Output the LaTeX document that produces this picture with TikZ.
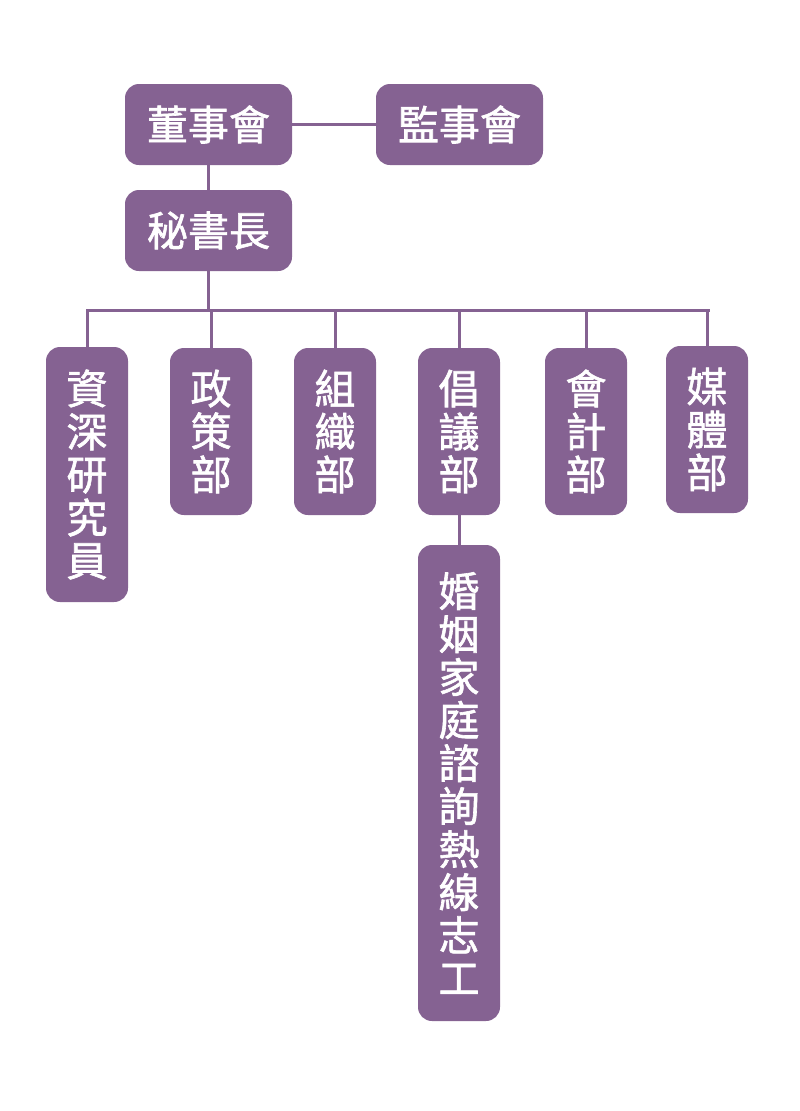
\documentclass[tikz,border=0pt]{standalone}
\usepackage{fontspec}
\newfontfamily\cjk[FakeBold=1.5]{Noto Sans CJK TC}
\usepackage{tikz}
\usetikzlibrary{positioning}
\definecolor{orgpurple}{RGB}{133,98,146}

\tikzset{
  orgbox/.style={fill=orgpurple,rounded corners=14pt,text=white,inner sep=0pt,
    font=\cjk\fontsize{41}{43}\selectfont,align=center},
  wide/.style={orgbox,minimum width=167pt,minimum height=81pt},
  tall/.style={orgbox,minimum width=82pt},
  orgline/.style={orgpurple,line width=3pt}
}

\begin{document}
\begin{tikzpicture}[x=1pt,y=-1pt]
  \useasboundingbox (0,0) rectangle (800,1111);
  % top level
  \node[wide] (board) at (208.5,124.5) {董事會};
  \node[wide] (super) at (459.5,124.5) {監事會};
  \node[wide] (secgen) at (208.5,230.5) {秘書長};
  % departments
  \node[tall,minimum height=255pt] (fellow) at (87,474.5) {資\\深\\研\\究\\員};
  \node[tall,minimum height=167pt] (policy) at (211,431.5) {政\\策\\部};
  \node[tall,minimum height=167pt] (organ) at (335,431.5) {組\\織\\部};
  \node[tall,minimum height=167pt] (advoc) at (459,431.5) {倡\\議\\部};
  \node[tall,minimum height=167pt] (account) at (586,431.5) {會\\計\\部};
  \node[tall,minimum height=167pt] (media) at (707,429.5) {媒\\體\\部};
  \node[tall,minimum height=476pt] (hotline) at (459,783) {婚\\姻\\家\\庭\\諮\\詢\\熱\\線\\志\\工};
  % connectors
  \coordinate (busL) at (87,310);
  \coordinate (busR) at (708,310);
  \draw[orgline] (board) -- (super);
  \draw[orgline] (board) -- (secgen);
  \draw[orgline] (secgen.south) -- (secgen.south |- busL);
  \draw[orgline,line cap=rect] (busL) -- (busR);
  \foreach \dept in {fellow,policy,organ,advoc,account,media} {
    \draw[orgline] (\dept.north) -- (\dept.north |- busL);
  }
  \draw[orgline] (advoc) -- (hotline);
\end{tikzpicture}
\end{document}
